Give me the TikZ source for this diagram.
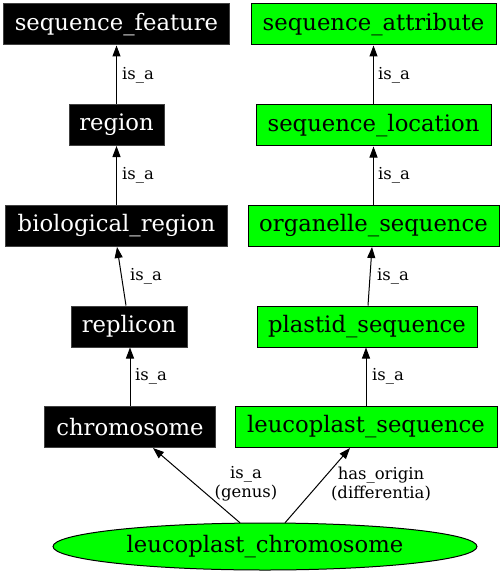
\documentclass[tikz,border=0pt]{standalone}
\usepackage{fontspec}
\setmainfont{DejaVu Serif}
\usetikzlibrary{arrows.meta,shapes.geometric}
\definecolor{gvgreen}{HTML}{00FF00}
\tikzset{
  darkbox/.style={rectangle, fill=black, draw=black!75, text=white, line width=1bp,
    minimum height=41bp, inner sep=0pt, font=\fontsize{22.8}{27}\selectfont},
  greenbox/.style={rectangle, fill=gvgreen, draw=black, text=black, line width=1bp,
    minimum height=41bp, inner sep=0pt, font=\fontsize{22.8}{27}\selectfont},
  greenell/.style={ellipse, fill=gvgreen, draw=black, line width=1bp,
    minimum width=424bp, minimum height=47bp, inner sep=0pt, font=\fontsize{22.8}{27}\selectfont},
  edgelbl/.style={inner sep=0pt, font=\fontsize{16.5}{19}\selectfont, align=center},
  arr/.style={-{Triangle[length=11bp,width=8bp]}, line width=1bp, draw=black}
}
\begin{document}
\begin{tikzpicture}[x=1bp,y=-1bp]
\useasboundingbox (0,0) rectangle (504,576);
% left column
\node[darkbox, minimum width=225bp] (sf) at (116.5,24.5) {sequence\_feature};
\node[darkbox, minimum width=95bp] (reg) at (116.5,125) {region};
\node[darkbox, minimum width=221bp] (bio) at (116.5,226) {biological\_region};
\node[darkbox, minimum width=116bp] (rep) at (129,326.5) {replicon};
\node[darkbox, minimum width=170bp] (chr) at (130,427) {chromosome};
% right column
\node[greenbox, minimum width=245bp] (sa) at (373.5,24.5) {sequence\_attribute};
\node[greenbox, minimum width=235bp] (sl) at (373.5,125.5) {sequence\_location};
\node[greenbox, minimum width=251bp] (os) at (373.5,226) {organelle\_sequence};
\node[greenbox, minimum width=220bp] (ps) at (367,326.5) {plastid\_sequence};
\node[greenbox, minimum width=262bp] (ls) at (366,427) {leucoplast\_sequence};
% ellipse
\node[greenell] (lc) at (265,546.5) {leucoplast\_chromosome};
% edges
\draw[arr] (reg.north) -- (sf.south);
\draw[arr] (bio.north) -- (reg.south);
\draw[arr] ([xshift=-3bp]rep.north) -- ([xshift=0.5bp]bio.south);
\draw[arr] (chr.north) -- ([xshift=1bp]rep.south);
\draw[arr] (sl.north) -- (sa.south);
\draw[arr] (os.north) -- (sl.south);
\draw[arr] ([xshift=1bp]ps.north) -- ([xshift=-1.5bp]os.south);
\draw[arr] (ls.north) -- (ps.south -| ls.north);
\draw[arr] ([xshift=-25bp,yshift=-0.3bp]lc.north) -- ([xshift=23bp]chr.south);
\draw[arr] ([xshift=20bp,yshift=-0.3bp]lc.north) -- ([xshift=-16bp]ls.south);
% labels
\node[edgelbl, anchor=west] (l1) at (122,75) {is\_a};
\node[edgelbl, anchor=west] (l2) at (122,175) {is\_a};
\node[edgelbl, anchor=west] (l3) at (130,276) {is\_a};
\node[edgelbl, anchor=west] (l4) at (135,376) {is\_a};
\node[edgelbl, anchor=west] (l5) at (378,75) {is\_a};
\node[edgelbl, anchor=west] (l6) at (378,175) {is\_a};
\node[edgelbl, anchor=west] (l7) at (377,276) {is\_a};
\node[edgelbl, anchor=west] (l8) at (372,376) {is\_a};
\node[edgelbl] (l9) at (246,484) {is\_a\\(genus)};
\node[edgelbl] (l10) at (381,484) {has\_origin\\(differentia)};
\end{tikzpicture}
\end{document}
